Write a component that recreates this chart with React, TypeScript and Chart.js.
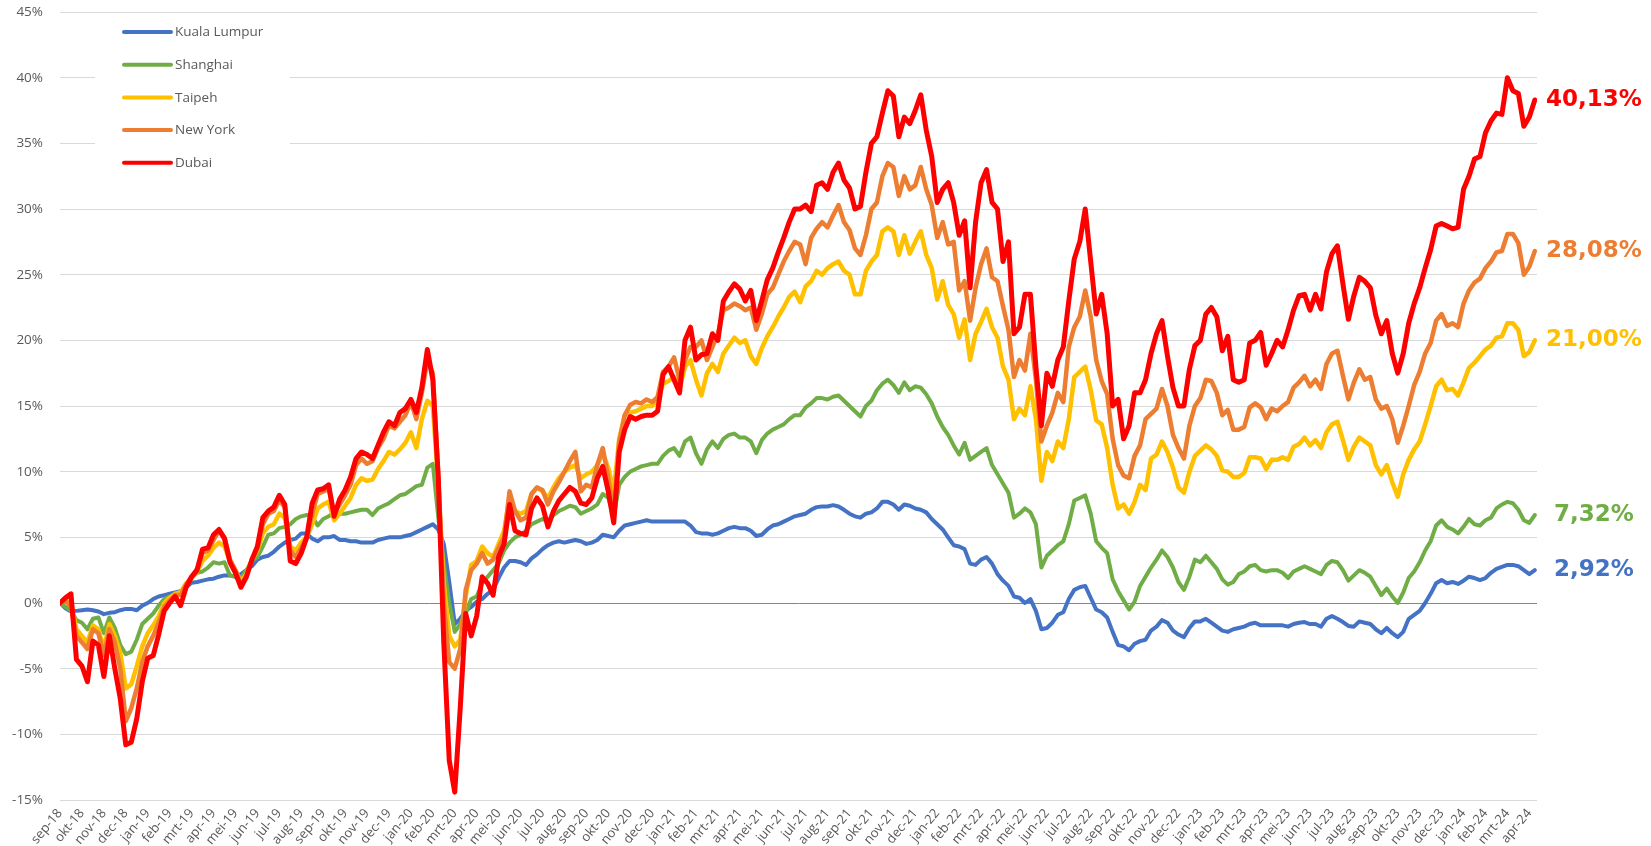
import React, { useEffect, useRef } from 'react';
import { Chart, registerables } from 'chart.js';

Chart.register(...registerables);

// Month tick labels (one per month, first of month)
const monthLabels = [
  'sep-18', 'okt-18', 'nov-18', 'dec-18',
  'jan-19', 'feb-19', 'mrt-19', 'apr-19', 'mei-19', 'jun-19', 'jul-19', 'aug-19', 'sep-19', 'okt-19', 'nov-19', 'dec-19',
  'jan-20', 'feb-20', 'mrt-20', 'apr-20', 'mei-20', 'jun-20', 'jul-20', 'aug-20', 'sep-20', 'okt-20', 'nov-20', 'dec-20',
  'jan-21', 'feb-21', 'mrt-21', 'apr-21', 'mei-21', 'jun-21', 'jul-21', 'aug-21', 'sep-21', 'okt-21', 'nov-21', 'dec-21',
  'jan-22', 'feb-22', 'mrt-22', 'apr-22', 'mei-22', 'jun-22', 'jul-22', 'aug-22', 'sep-22', 'okt-22', 'nov-22', 'dec-22',
  'jan-23', 'feb-23', 'mrt-23', 'apr-23', 'mei-23', 'jun-23', 'jul-23', 'aug-23', 'sep-23', 'okt-23', 'nov-23', 'dec-23',
  'jan-24', 'feb-24', 'mrt-24', 'apr-24',
];

// samples are taken every quarter month, starting at sep-18
const SAMPLE_STEP_MONTHS = 0.25;
const X_MAX_MONTHS = 67.35;

const yTickValues = [-15, -10, -5, 0, 5, 10, 15, 20, 25, 30, 35, 40, 45];

const kualaLumpur = [
  0, -0.4, -0.65, -0.6, -0.55, -0.5, -0.55, -0.65, -0.85, -0.75, -0.7, -0.55, -0.45, -0.45, -0.55, -0.2,
  0.0, 0.3, 0.5, 0.6, 0.7, 0.8, 0.9, 1.2, 1.55, 1.6, 1.7, 1.8, 1.85, 2.0, 2.1, 2.1,
  2.0, 2.2, 2.5, 2.8, 3.3, 3.5, 3.6, 3.9, 4.3, 4.6, 4.8, 4.9, 5.3, 5.3, 4.9, 4.7,
  5.0, 5.0, 5.1, 4.8, 4.8, 4.7, 4.7, 4.6, 4.6, 4.6, 4.8, 4.9, 5.0, 5.0, 5.0, 5.1,
  5.2, 5.4, 5.6, 5.8, 6.0, 5.6, 4.5, 1.6, -1.6, -1.2, -0.6, -0.3, 0.1, 0.3, 0.7, 1.0,
  1.9, 2.7, 3.2, 3.2, 3.1, 2.9, 3.4, 3.7, 4.1, 4.4, 4.6, 4.7, 4.6, 4.7, 4.8, 4.7,
  4.5, 4.6, 4.8, 5.2, 5.1, 5.0, 5.5, 5.9, 6.0, 6.1, 6.2, 6.3, 6.2, 6.2, 6.2, 6.2,
  6.2, 6.2, 6.2, 5.9, 5.4, 5.3, 5.3, 5.2, 5.3, 5.5, 5.7, 5.8, 5.7, 5.7, 5.5, 5.1,
  5.2, 5.6, 5.9, 6.0, 6.2, 6.4, 6.6, 6.7, 6.8, 7.1, 7.3, 7.35, 7.35, 7.45, 7.35, 7.1,
  6.8, 6.6, 6.5, 6.8, 6.9, 7.2, 7.7, 7.7, 7.5, 7.1, 7.5, 7.4, 7.2, 7.1, 6.9, 6.4,
  6.0, 5.6, 5.0, 4.4, 4.3, 4.1, 3.0, 2.9, 3.3, 3.5, 3.0, 2.2, 1.7, 1.3, 0.5, 0.4,
  0.0, 0.3, -0.6, -2.0, -1.9, -1.5, -0.9, -0.7, 0.3, 1.0, 1.2, 1.3, 0.4, -0.5, -0.7, -1.1,
  -2.2, -3.2, -3.3, -3.6, -3.1, -2.9, -2.8, -2.1, -1.8, -1.3, -1.5, -2.1, -2.4, -2.6, -1.9, -1.4,
  -1.4, -1.2, -1.5, -1.8, -2.1, -2.2, -2.0, -1.9, -1.8, -1.6, -1.5, -1.7, -1.7, -1.7, -1.7, -1.7,
  -1.8, -1.6, -1.5, -1.45, -1.6, -1.6, -1.8, -1.2, -1.0, -1.2, -1.45, -1.75, -1.8, -1.4, -1.5, -1.6,
  -2.0, -2.3, -1.9, -2.3, -2.6, -2.2, -1.2, -0.9, -0.6, 0.0, 0.7, 1.5, 1.75, 1.5, 1.6, 1.45,
  1.7, 2.0, 1.9, 1.75, 1.9, 2.3, 2.6, 2.75, 2.9, 2.9, 2.8, 2.5, 2.2, 2.5,
];

const shanghai = [
  0, -0.3, -0.6, -1.3, -1.5, -2.0, -1.2, -1.1, -2.3, -1.1, -1.9, -3.2, -3.9, -3.7, -2.8, -1.6,
  -1.2, -0.8, -0.2, 0.3, 0.5, 0.6, 0.9, 1.2, 1.9, 2.3, 2.4, 2.7, 3.1, 3.0, 3.1, 2.1,
  2.0, 1.9, 2.5, 3.2, 3.5, 4.3, 5.2, 5.3, 5.7, 5.8, 6.0, 6.4, 6.6, 6.7, 6.6, 5.9,
  6.4, 6.6, 6.9, 6.8, 6.8, 6.9, 7.0, 7.1, 7.1, 6.7, 7.2, 7.4, 7.6, 7.9, 8.2, 8.3,
  8.6, 8.9, 9.0, 10.3, 10.6, 6.5, 3.0, 0.0, -2.2, -1.6, -0.8, 0.3, 0.5, 1.5, 2.0, 2.5,
  3.0, 4.0, 4.6, 5.0, 5.2, 5.5, 6.0, 6.2, 6.4, 6.2, 6.7, 7.0, 7.2, 7.4, 7.3, 6.8,
  7.0, 7.2, 7.5, 8.3, 8.0, 6.6, 9.0, 9.6, 10.0, 10.2, 10.4, 10.5, 10.6, 10.6, 11.2, 11.6,
  11.8, 11.2, 12.3, 12.6, 11.4, 10.6, 11.7, 12.3, 11.8, 12.5, 12.8, 12.9, 12.6, 12.6, 12.3, 11.4,
  12.4, 12.9, 13.2, 13.4, 13.6, 14.0, 14.3, 14.3, 14.9, 15.2, 15.6, 15.6, 15.5, 15.7, 15.8, 15.4,
  15.0, 14.6, 14.2, 15.0, 15.4, 16.2, 16.7, 17.0, 16.6, 16.0, 16.8, 16.2, 16.5, 16.4, 15.9, 15.2,
  14.2, 13.4, 12.8, 12.0, 11.3, 12.2, 10.9, 11.2, 11.5, 11.8, 10.5, 9.8, 9.1, 8.4, 6.5, 6.8,
  7.2, 6.9, 6.0, 2.7, 3.6, 4.0, 4.4, 4.7, 6.0, 7.8, 8.0, 8.2, 6.8, 4.7, 4.2, 3.8,
  1.8, 0.9, 0.2, -0.5, 0.1, 1.3, 2.0, 2.7, 3.3, 4.0, 3.5, 2.7, 1.6, 1.0, 2.0, 3.3,
  3.1, 3.6, 3.1, 2.6, 1.8, 1.4, 1.6, 2.2, 2.4, 2.8, 2.9, 2.5, 2.4, 2.5, 2.5, 2.3,
  1.9, 2.4, 2.6, 2.8, 2.6, 2.4, 2.2, 2.9, 3.2, 3.1, 2.5, 1.7, 2.1, 2.5, 2.3, 2.0,
  1.3, 0.6, 1.1, 0.5, 0.0, 0.8, 1.9, 2.4, 3.1, 4.0, 4.7, 5.9, 6.3, 5.8, 5.6, 5.3,
  5.8, 6.4, 6.0, 5.9, 6.3, 6.5, 7.2, 7.5, 7.7, 7.6, 7.1, 6.3, 6.1, 6.7,
];

const taipeh = [
  0, 0.2, 0, -2.0, -2.5, -3.0, -1.7, -2.0, -3.5, -1.6, -2.5, -3.8, -6.5, -6.2, -4.8, -3.3,
  -2.3, -1.7, -1.0, 0, 0.4, 0.7, 0.8, 1.5, 1.9, 2.4, 3.2, 3.6, 4.2, 4.6, 4.3, 3.2,
  2.5, 1.6, 2.2, 3.3, 4.0, 5.3, 5.8, 6.0, 6.8, 6.5, 4.3, 4.0, 4.6, 5.0, 6.0, 7.2,
  7.5, 7.7, 6.3, 6.8, 7.4, 8.0, 9.0, 9.5, 9.3, 9.4, 10.2, 10.8, 11.5, 11.3, 11.7, 12.2,
  13.0, 11.8, 14.0, 15.4, 15.0, 9.0, 1.5, -2.5, -3.3, -2.8, 0.5, 2.9, 3.2, 4.3, 3.8, 3.5,
  4.5, 5.5, 8.0, 7.0, 6.8, 7.0, 8.3, 8.8, 8.5, 8.0, 8.8, 9.5, 10.0, 10.3, 10.5, 9.5,
  9.8, 10.0, 10.5, 11.4, 10.3, 8.5, 12.5, 14.3, 14.5, 14.6, 14.8, 15.0, 15.0, 15.5, 16.7, 16.9,
  17.2, 16.3, 18.0, 18.5, 17.0, 15.8, 17.5, 18.2, 17.6, 19.0, 19.6, 20.2, 19.8, 20.0, 18.8, 18.2,
  19.4, 20.3, 21.0, 21.8, 22.5, 23.3, 23.7, 22.9, 24.1, 24.5, 25.3, 25.0, 25.5, 25.8, 26.0, 25.3,
  25.0, 23.5, 23.5, 25.3, 26.0, 26.5, 28.3, 28.6, 28.3, 26.5, 28.0, 26.6, 27.5, 28.3, 26.5, 25.5,
  23.1, 24.5, 22.7, 22.0, 20.2, 21.6, 18.5, 20.5, 21.4, 22.4, 21.0, 20.2, 18.0, 17.0, 14.0, 14.8,
  14.3, 16.5, 14.0, 9.3, 11.5, 10.8, 12.3, 11.8, 14.0, 17.2, 17.6, 18.0, 16.2, 13.9, 13.6, 11.8,
  9.0, 7.2, 7.5, 6.8, 7.7, 9.0, 8.6, 11.0, 11.3, 12.3, 11.5, 10.3, 8.8, 8.4, 10.0, 11.2,
  11.6, 12.0, 11.7, 11.2, 10.1, 10.0, 9.6, 9.6, 9.9, 11.1, 11.1, 11.0, 10.2, 10.9, 10.9, 11.1,
  10.9, 11.9, 12.1, 12.6, 12.0, 12.4, 11.8, 13.0, 13.6, 13.8, 12.4, 10.9, 11.9, 12.6, 12.3, 12.0,
  10.5, 9.8, 10.5, 9.2, 8.1, 9.8, 10.9, 11.7, 12.3, 13.6, 15.0, 16.5, 17.0, 16.2, 16.3, 15.8,
  16.8, 17.9, 18.3, 18.8, 19.3, 19.6, 20.2, 20.3, 21.3, 21.3, 20.8, 18.8, 19.1, 20.0,
];

const newYork = [
  0, 0.2, -0.3, -2.5, -3.0, -3.5, -2.0, -2.3, -4.0, -2.0, -3.0, -5.0, -9.0, -8.0, -6.5, -4.5,
  -3.3, -2.5, -1.5, -0.3, 0.2, 0.6, 0.6, 1.4, 2.0, 2.6, 3.8, 4.0, 4.8, 5.5, 5.0, 3.3,
  2.5, 1.4, 2.0, 3.3, 4.2, 6.0, 6.8, 7.0, 7.8, 7.3, 4.0, 3.5, 4.2, 5.0, 6.8, 8.3,
  8.5, 8.7, 6.8, 7.5, 8.2, 9.0, 10.5, 11.0, 10.6, 10.8, 11.8, 12.5, 13.5, 13.3, 13.8, 14.3,
  15.3, 14.0, 16.0, 18.5, 17.5, 9.7, 0.0, -4.5, -5.0, -3.5, 1.0, 2.5, 3.0, 3.8, 3.0, 3.3,
  4.2, 5.0, 8.5, 7.0, 6.3, 6.5, 8.3, 8.8, 8.6, 7.5, 8.5, 9.2, 10.0, 10.8, 11.5, 8.5,
  9.0, 8.8, 10.5, 11.8, 9.5, 6.8, 12.3, 14.3, 15.1, 15.3, 15.2, 15.5, 15.3, 15.7, 17.6, 18.0,
  18.7, 17.0, 18.5, 19.5, 19.5, 20.0, 18.5, 19.5, 20.5, 22.3, 22.5, 22.8, 22.6, 22.3, 22.5, 20.8,
  22.0, 23.5, 24.0, 25.0, 26.0, 26.8, 27.5, 27.3, 25.8, 27.8, 28.5, 29.0, 28.6, 29.5, 30.3, 29.0,
  28.4, 27.0, 26.5, 28.0, 30.0, 30.5, 32.5, 33.5, 33.2, 31.0, 32.5, 31.5, 31.8, 33.2, 31.5, 30.3,
  27.8, 29.0, 27.3, 27.5, 23.8, 24.5, 21.5, 24.0, 25.8, 27.0, 24.8, 24.5, 22.6, 20.8, 17.2, 18.5,
  17.7, 20.5, 17.0, 12.3, 13.5, 14.5, 16.0, 15.3, 19.5, 21.0, 21.8, 23.8, 21.8, 18.5, 16.9, 15.9,
  12.5, 10.5, 9.7, 9.5, 11.2, 12.0, 14.0, 14.4, 14.8, 16.3, 15.0, 12.8, 11.8, 11.0, 13.5, 15.0,
  15.6, 17.0, 16.9, 16.0, 14.3, 14.7, 13.2, 13.2, 13.4, 14.9, 15.2, 14.9, 14.0, 14.8, 14.6, 15.0,
  15.3, 16.4, 16.8, 17.3, 16.5, 17.0, 16.3, 18.2, 19.0, 19.2, 17.3, 15.5, 16.8, 17.8, 17.0, 17.2,
  15.5, 14.8, 15.0, 14.0, 12.2, 13.5, 15.0, 16.6, 17.6, 19.0, 19.8, 21.5, 22.0, 21.1, 21.3, 21.0,
  22.8, 23.8, 24.4, 24.7, 25.5, 26.0, 26.7, 26.8, 28.1, 28.1, 27.4, 25.0, 25.6, 26.8,
];

const dubai = [
  0, 0.4, 0.7, -4.3, -4.8, -6.0, -2.9, -3.2, -5.6, -2.5, -5.0, -7.3, -10.8, -10.6, -8.8, -6.0,
  -4.2, -4.0, -2.4, -0.6, 0.0, 0.5, -0.2, 1.2, 2.0, 2.5, 4.1, 4.2, 5.2, 5.6, 4.9, 3.1,
  2.3, 1.2, 2.0, 3.3, 4.3, 6.5, 7.0, 7.3, 8.2, 7.5, 3.2, 3.0, 3.8, 5.0, 7.6, 8.6,
  8.7, 9.0, 6.6, 7.9, 8.6, 9.6, 11.0, 11.5, 11.3, 11.0, 12.0, 13.0, 13.8, 13.5, 14.5, 14.8,
  15.5, 14.5, 16.4, 19.3, 17.0, 9.5, -3.0, -12.0, -14.4, -8.0, -0.8, -2.5, -1.0, 2.0, 1.5, 0.6,
  3.5, 4.5, 7.5, 5.5, 5.3, 5.2, 7.2, 8.0, 7.4, 5.8, 7.0, 7.8, 8.3, 8.8, 8.5, 7.6,
  7.5, 8.0, 9.5, 10.4, 8.5, 6.1, 11.5, 13.2, 14.2, 14.0, 14.2, 14.3, 14.3, 14.6, 17.4, 18.0,
  17.0, 16.0, 20.0, 21.0, 18.5, 18.9, 19.0, 20.5, 20.0, 23.0, 23.7, 24.3, 23.9, 23.0, 23.8, 21.5,
  23.0, 24.6, 25.5, 26.7, 27.8, 29.0, 30.0, 30.0, 30.3, 29.8, 31.8, 32.0, 31.5, 32.8, 33.5, 32.2,
  31.6, 30.0, 30.2, 32.8, 35.0, 35.5, 37.3, 39.0, 38.6, 35.5, 37.0, 36.5, 37.5, 38.7, 36.0, 34.0,
  30.5, 31.5, 32.0, 30.5, 28.0, 29.1, 24.0, 29.0, 32.0, 33.0, 30.5, 30.0, 26.0, 27.5, 20.5, 21.0,
  23.5, 23.5, 18.0, 13.5, 17.5, 16.5, 18.5, 19.5, 23.0, 26.2, 27.5, 30.0, 26.0, 22.0, 23.5, 20.5,
  15.0, 15.5, 12.5, 13.5, 16.0, 16.0, 17.0, 19.0, 20.5, 21.5, 18.8, 16.4, 15.0, 15.0, 17.8, 19.6,
  20.0, 22.0, 22.5, 21.8, 19.2, 20.3, 17.0, 16.8, 17.0, 19.8, 20.0, 20.6, 18.1, 19.0, 20.0, 19.5,
  20.8, 22.3, 23.4, 23.5, 22.3, 23.5, 22.4, 25.2, 26.6, 27.2, 24.3, 21.6, 23.4, 24.8, 24.5, 24.0,
  21.9, 20.5, 21.5, 19.0, 17.5, 19.0, 21.3, 22.8, 24.0, 25.5, 26.9, 28.7, 28.9, 28.7, 28.5, 28.6,
  31.5, 32.5, 33.8, 34.0, 35.8, 36.7, 37.3, 37.2, 40.0, 39.0, 38.8, 36.3, 37.0, 38.3,
];

const seriesNames = ['Kuala Lumpur', 'Shanghai', 'Taipeh', 'New York', 'Dubai'];
const seriesValues = [kualaLumpur, shanghai, taipeh, newYork, dubai];
const seriesColors = ['#4472C4', '#70AD47', '#FFC000', '#ED7D31', '#FF0000'];
const seriesWidths = [4, 4, 4.5, 4.5, 5];
const endLabels = ['2,92%', '7,32%', '21,00%', '28,08%', '40,13%'];

const TICK_FONT = "'Open Sans', 'DejaVu Sans', sans-serif";
const TICK_COLOR = '#595959';

const legendPlugin = {
  id: 'customLegend',
  afterDraw(chart: any) {
    const ctx = chart.ctx;
    ctx.save();
    ctx.fillStyle = '#ffffff';
    ctx.fillRect(95, 16, 195, 164);
    seriesNames.forEach((name, i) => {
      const y = 32 + i * 32.7;
      ctx.strokeStyle = seriesColors[i];
      ctx.lineWidth = 4;
      ctx.lineCap = 'round';
      ctx.beginPath();
      ctx.moveTo(124, y);
      ctx.lineTo(171, y);
      ctx.stroke();
      ctx.fillStyle = TICK_COLOR;
      ctx.font = `13.5px ${TICK_FONT}`;
      ctx.textAlign = 'left';
      ctx.textBaseline = 'middle';
      ctx.fillText(name, 175, y + 0.5);
    });
    ctx.restore();
  },
};

const endLabelPlugin = {
  id: 'endLabels',
  afterDatasetsDraw(chart: any) {
    const ctx = chart.ctx;
    const area = chart.chartArea;
    ctx.save();
    ctx.font = "bold 23px 'DejaVu Sans', sans-serif";
    ctx.textAlign = 'center';
    ctx.textBaseline = 'middle';
    chart.data.datasets.forEach((ds: any, i: number) => {
      const meta = chart.getDatasetMeta(i);
      const last = meta.data[meta.data.length - 1];
      if (!last) return;
      ctx.fillStyle = seriesColors[i];
      ctx.fillText(endLabels[i], area.right + 57, last.y);
    });
    ctx.restore();
  },
};

export default function App() {
  const canvasRef = useRef<HTMLCanvasElement | null>(null);

  useEffect(() => {
    const canvas = canvasRef.current;
    if (!canvas) return;
    const datasets = seriesValues.map((vals, i) => ({
      label: seriesNames[i],
      data: vals.map((v, k) => ({ x: k * SAMPLE_STEP_MONTHS, y: v })),
      borderColor: seriesColors[i],
      backgroundColor: seriesColors[i],
      borderWidth: seriesWidths[i],
      pointRadius: 0,
      pointHoverRadius: 0,
      tension: 0,
      fill: false,
      borderJoinStyle: 'round' as const,
      borderCapStyle: 'round' as const,
      order: seriesNames.length - 1 - i,
    }));

    const chart = new Chart(canvas, {
      type: 'line',
      data: { datasets },
      plugins: [legendPlugin, endLabelPlugin],
      options: {
        animation: false,
        responsive: false,
        devicePixelRatio: 1,
        parsing: false as any,
        layout: { padding: { top: 12, right: 114, left: 0, bottom: 0 } },
        plugins: { legend: { display: false }, tooltip: { enabled: false } },
        scales: {
          x: {
            type: 'linear',
            min: 0,
            max: X_MAX_MONTHS,
            grid: { display: false, drawTicks: false },
            border: { display: false },
            afterFit: (scale: any) => { scale.height = 46; },
            afterBuildTicks: (scale: any) => {
              scale.ticks = monthLabels.map((_, i) => ({ value: i }));
            },
            ticks: {
              autoSkip: false,
              includeBounds: false,
              stepSize: 1,
              minRotation: 50,
              maxRotation: 50,
              padding: 6,
              color: TICK_COLOR,
              font: { family: TICK_FONT, size: 13 },
              callback: (value: any) => monthLabels[Math.round(Number(value))] ?? '',
            },
          },
          y: {
            type: 'linear',
            min: -15,
            max: 45,
            afterFit: (scale: any) => {
              scale.width = 60;
              scale.paddingTop = 0;
              scale.paddingBottom = 0;
            },
            afterBuildTicks: (scale: any) => {
              scale.ticks = yTickValues.map((v) => ({ value: v }));
            },
            grid: {
              drawTicks: false,
              lineWidth: 1,
              color: (c: any) => (c.tick && c.tick.value === 0 ? '#868686' : '#d9d9d9'),
            },
            border: { display: false },
            ticks: {
              padding: 17,
              color: TICK_COLOR,
              font: { family: TICK_FONT, size: 13.5 },
              callback: (value: any) => `${value}%`,
            },
          },
        },
      },
    });
    return () => chart.destroy();
  }, []);

  return (
    <div style={{ position: 'fixed', left: 0, top: 0, width: 1651, height: 846, background: '#ffffff' }}>
      <canvas ref={canvasRef} width={1651} height={846} style={{ width: 1651, height: 846, display: 'block' }} />
    </div>
  );
}
